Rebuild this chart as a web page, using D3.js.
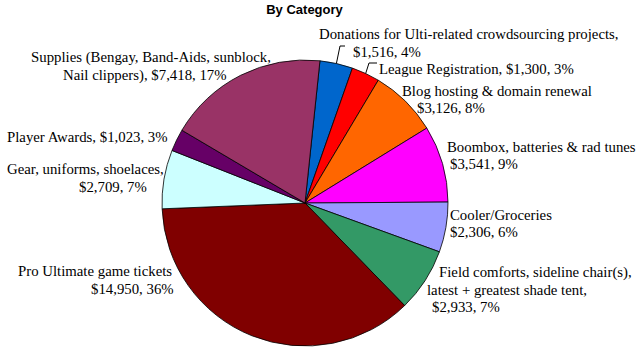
<!DOCTYPE html>
<html>
<head>
<meta charset="utf-8">
<script src="https://cdn.jsdelivr.net/npm/d3@7"></script>
<style>
  html, body { margin: 0; padding: 0; background: #fff; }
  svg { display: block; }
  .lbl { font-family: "Liberation Serif", "Times New Roman", Tinos, "DejaVu Serif", serif; }
</style>
</head>
<body>
<svg id="chart" width="640" height="350"></svg>
<script>
// ---- Data ----
const categories = [
  "Donations for Ulti-related crowdsourcing projects,",
  "League Registration,",
  "Blog hosting & domain renewal",
  "Boombox, batteries & rad tunes",
  "Cooler/Groceries",
  "Field comforts, sideline chair(s),\nlatest + greatest shade tent,",
  "Pro Ultimate game tickets",
  "Gear, uniforms, shoelaces,",
  "Player Awards,",
  "Supplies (Bengay, Band-Aids, sunblock,\nNail clippers),"
];
const values = [1516, 1300, 3126, 3541, 2306, 2933, 14950, 2709, 1023, 7418];
const valueLabels = ["$1,516", "$1,300", "$3,126", "$3,541", "$2,306", "$2,933", "$14,950", "$2,709", "$1,023", "$7,418"];
const percentLabels = ["4%", "3%", "8%", "9%", "6%", "7%", "36%", "7%", "3%", "17%"];
const colors = ["#0066CC", "#FF0000", "#FF6600", "#FF00FF", "#9999FF", "#339966", "#800000", "#CCFFFF", "#660066", "#993366"];
const title = "By Category";

// ---- Layout (label placement) ----
const labelLayout = [
  { newLine: true,  lines: [[319, 39], [353, 56.5]], leader: [[340, 46], [345, 46]] },
  { newLine: false, lines: [[379, 74]], leader: [[369, 63], [377, 63]] },
  { newLine: true,  lines: [[402, 96], [417, 113]] },
  { newLine: true,  lines: [[447, 152], [450, 169]] },
  { newLine: true,  lines: [[450, 219.5], [450, 237]] },
  { newLine: true,  lines: [[439, 277], [427, 294.5], [432, 312]] },
  { newLine: true,  lines: [[18, 276], [91, 294]] },
  { newLine: true,  lines: [[7, 174], [79, 192]] },
  { newLine: false, lines: [[7, 142]] },
  { newLine: false, lines: [[31, 62], [63, 79.5]] }
];

const cx = 305, cy = 203, R = 143;
const startDeg = 6;

const svg = d3.select("#chart");

svg.append("text")
  .attr("x", 304.5).attr("y", 14)
  .attr("text-anchor", "middle")
  .style("font-family", "'Liberation Sans', Arial, sans-serif")
  .style("font-weight", "bold")
  .style("font-size", "13px")
  .attr("fill", "#000")
  .text(title);

const pie = d3.pie().sort(null).value(d => d)
  .startAngle(startDeg * Math.PI / 180)
  .endAngle((startDeg + 360) * Math.PI / 180);
const arcs = pie(values);
const arc = d3.arc().innerRadius(0).outerRadius(R);

const g = svg.append("g").attr("transform", `translate(${cx},${cy})`);
g.selectAll("path").data(arcs).join("path")
  .attr("d", arc)
  .attr("fill", (d, i) => colors[i])
  .attr("stroke", "#000")
  .attr("stroke-width", 0.8)
  .attr("stroke-linejoin", "round");

// leader lines
arcs.forEach((a, i) => {
  const L = labelLayout[i];
  if (!L.leader) return;
  const mid = (a.startAngle + a.endAngle) / 2;
  const p0 = [cx + R * Math.sin(mid), cy - R * Math.cos(mid)];
  const pts = [p0].concat(L.leader);
  svg.append("path")
    .attr("d", d3.line()(pts))
    .attr("fill", "none")
    .attr("stroke", "#000")
    .attr("stroke-width", 1);
});

// labels
const labelG = svg.append("g")
  .attr("class", "lbl")
  .style("font-size", "14.8px")
  .attr("fill", "#000");

categories.forEach((name, i) => {
  const L = labelLayout[i];
  const nameLines = name.split("\n");
  const vp = valueLabels[i] + ", " + percentLabels[i];
  let lines;
  if (L.newLine) lines = nameLines.concat([vp]);
  else {
    lines = nameLines.slice();
    lines[lines.length - 1] = lines[lines.length - 1] + " " + vp;
  }
  lines.forEach((t, j) => {
    const pos = L.lines[j];
    labelG.append("text")
      .attr("class", "lbl")
      .attr("x", pos[0]).attr("y", pos[1])
      .text(t);
  });
});
</script>
</body>
</html>
